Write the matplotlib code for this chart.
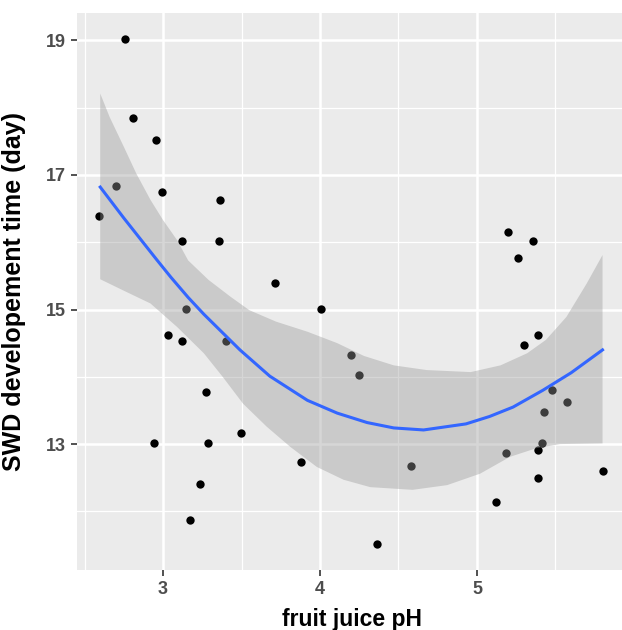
import matplotlib
matplotlib.use('Agg')

import matplotlib.pyplot as plt
from matplotlib.ticker import MultipleLocator

# points
ph = [2.594, 2.699, 2.76, 2.811, 2.955, 2.994, 2.945, 3.032, 3.123, 3.148,
      3.123, 3.17, 3.238, 3.274, 3.289, 3.365, 3.355, 3.403, 3.495, 3.713,
      3.877, 4.006, 4.197, 4.25, 4.36, 4.58,
      5.20, 5.36, 5.263, 5.39, 5.30, 5.48, 5.571, 5.429, 5.416, 5.39,
      5.183, 5.39, 5.80, 5.119]
days = [16.39, 16.83, 19.02, 17.85, 17.52, 16.74, 13.01, 14.62, 16.02, 15.01,
        14.53, 11.87, 12.41, 13.78, 13.01, 16.63, 16.02, 14.53, 13.16, 15.40,
        12.74, 15.01, 14.32, 14.02, 11.51, 12.67,
        16.15, 16.02, 15.76, 14.62, 14.47, 13.80, 13.63, 13.48, 13.01, 12.91,
        12.86, 12.50, 12.60, 12.14]

# smoother and its confidence band
fit_x = [2.60, 2.75, 2.96, 3.05, 3.16, 3.26, 3.49, 3.68, 3.92, 4.11, 4.30,
         4.47, 4.66, 4.93, 5.08, 5.23, 5.42, 5.60, 5.80]
fit_y = [16.82, 16.36, 15.74, 15.48, 15.18, 14.93, 14.40, 14.01, 13.65, 13.46, 13.32,
         13.24, 13.21, 13.30, 13.41, 13.55, 13.80, 14.06, 14.40]

hi_x = [2.60, 2.66, 2.75, 2.83, 2.92, 3.00, 3.09, 3.16, 3.29, 3.43, 3.55, 3.72,
        3.92, 4.11, 4.28, 4.47, 4.68, 4.96, 5.15, 5.32, 5.44, 5.57, 5.70, 5.80]
hi_y = [18.21, 17.86, 17.42, 17.02, 16.63, 16.33, 16.03, 15.73, 15.44, 15.19, 14.99, 14.82,
        14.67, 14.50, 14.31, 14.17, 14.10, 14.07, 14.17, 14.35, 14.55, 14.89, 15.39, 15.81]
lo_x = [2.60, 2.75, 2.92, 3.09, 3.26, 3.38, 3.51, 3.66, 3.81, 3.98, 4.15, 4.32,
        4.59, 4.81, 5.02, 5.21, 5.38, 5.53, 5.80]
lo_y = [15.45, 15.28, 15.09, 14.74, 14.35, 14.00, 13.60, 13.26, 12.96, 12.66, 12.47, 12.36,
        12.32, 12.39, 12.56, 12.81, 12.94, 13.00, 13.01]

plt.rcParams['font.family'] = ['Liberation Sans', 'DejaVu Sans']

fig = plt.figure(figsize=(6.22, 6.30), dpi=100)
ax = fig.add_axes([0.1233, 0.0952, 1 - 0.1233, 0.979 - 0.0952])
ax.set_facecolor('#EBEBEB')

ax.scatter(ph, days, s=36, color='black', linewidths=0, zorder=2)
ax.fill(hi_x + lo_x[::-1], hi_y + lo_y[::-1], color='#999999', alpha=0.4,
        linewidth=0, zorder=3)
ax.plot(fit_x, fit_y, color='#3366FF', linewidth=2.2, zorder=4)

ax.set_xlim(2.45, 5.924)
ax.set_ylim(11.128, 19.404)
ax.xaxis.set_major_locator(MultipleLocator(1))
ax.xaxis.set_minor_locator(MultipleLocator(0.5))
ax.yaxis.set_major_locator(MultipleLocator(2))
ax.yaxis.set_minor_locator(MultipleLocator(1))
ax.set_yticks([13, 15, 17, 19])

ax.grid(which='major', color='white', linewidth=1.8, zorder=0)
ax.grid(which='minor', color='white', linewidth=0.9, zorder=0)
ax.set_axisbelow(True)
for s in ax.spines.values():
    s.set_visible(False)

ax.tick_params(which='major', length=4, width=1.2, color='#333333', pad=4,
               labelsize=13, labelcolor='#4D4D4D')
ax.tick_params(which='minor', length=0)
for lab in ax.get_xticklabels() + ax.get_yticklabels():
    lab.set_fontweight('bold')

ax.set_xlabel('fruit juice pH', fontsize=16.5, fontweight='bold', color='black')
ax.xaxis.set_label_coords(0.505, -0.068)
ax.set_ylabel('SWD developement time (day)', fontsize=18, fontweight='bold', color='black')
ax.yaxis.set_label_coords(-0.093, 0.5)

fig.savefig('out.png', dpi=100)
